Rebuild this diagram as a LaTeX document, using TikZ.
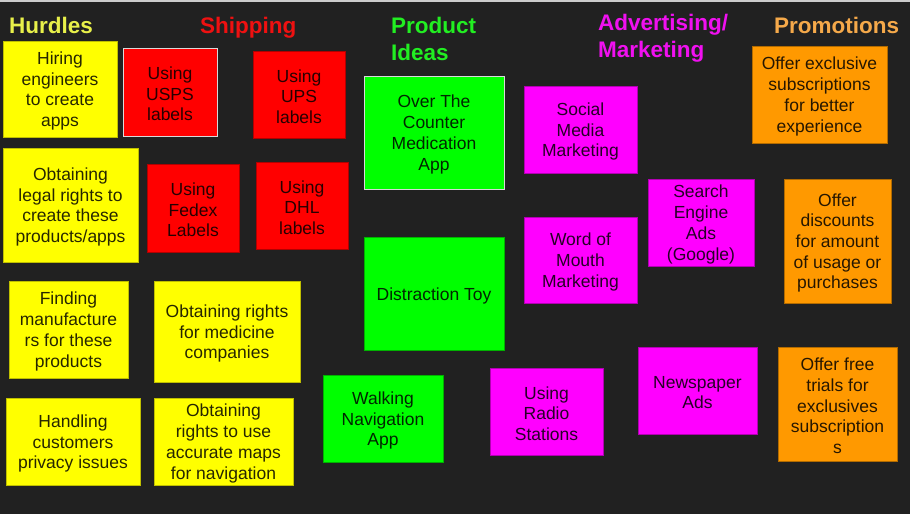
\documentclass[tikz,border=0pt]{standalone}
\usepackage{fontspec}
\setmainfont{Liberation Sans}
\definecolor{bg}{HTML}{212121}
\definecolor{cyel}{HTML}{FFFF00}
\definecolor{cred}{HTML}{FF0000}
\definecolor{cgrn}{HTML}{00FF00}
\definecolor{cmag}{HTML}{FF00FF}
\definecolor{corg}{HTML}{FF9900}
\definecolor{thur}{HTML}{E8F04A}
\definecolor{tshp}{HTML}{EE1111}
\definecolor{tprd}{HTML}{22EE22}
\definecolor{tadv}{HTML}{F010F0}
\definecolor{tpro}{HTML}{F5A94A}
\tikzset{
  card/.style={rectangle, inner sep=0pt, outer sep=0pt, line width=1pt},
  cardtext/.style={inner sep=0pt, align=center, yshift=-2pt,
    font=\fontsize{17.5}{20.7}\selectfont, text=black, text opacity=0.85},
  txt/.style={label={[cardtext]center:{#1}}},
  ycard/.style={card, fill=cyel, draw=cyel!75!black},
  rcard/.style={card, fill=cred, draw=cred!70!black},
  gcard/.style={card, fill=cgrn, draw=cgrn!70!black},
  mcard/.style={card, fill=cmag, draw=cmag!70!black},
  ocard/.style={card, fill=corg, draw=corg!70!black},
  selcard/.style={draw=white!85!black},
  title/.style={anchor=north west, inner sep=0pt, align=left,
    font=\fontsize{22.5}{27.5}\selectfont\bfseries},
  sz/.style 2 args={minimum width=#1pt, minimum height=#2pt}
}
\begin{document}
\begin{tikzpicture}[x=1pt,y=-1pt]
\fill[bg] (0,0) rectangle (910,514);
\useasboundingbox (0,0) rectangle (910,514);
\draw[white!80!black, line width=1.5pt] (0,0.75) -- (910,0.75);

% titles
\node[title, text=thur] (tH) at (9,16.8) {Hurdles};
\node[title, text=tshp] (tS) at (200,16.8) {Shipping};
\node[title, text=tprd] (tP) at (391,16.8) {Product\\Ideas};
\node[title, text=tadv] (tA) at (598,13.8) {Advertising/\\Marketing};
\node[title, text=tpro] (tR) at (774,16.8) {Promotions};

% hurdles
\node[ycard, sz={114}{96}, txt={Hiring\\engineers\\to create\\apps}] (h1) at (60,89) {};
\node[ycard, sz={135}{114}, txt={Obtaining\\legal rights to\\create these\\products/apps}] (h2) at (70.5,205) {};
\node[ycard, sz={119}{97}, txt={Finding\\manufacture\\rs for these\\products}] (h3) at (68.5,329.5) {};
\node[ycard, sz={146}{101}, txt={Obtaining rights\\for medicine\\companies}] (h4) at (227,331.5) {};
\node[ycard, sz={134}{87}, txt={Handling\\customers\\privacy issues}] (h5) at (73,441.5) {};
\node[ycard, sz={139}{87}, txt={Obtaining\\rights to use\\accurate maps\\for navigation}] (h6) at (223.5,441.5) {};

% shipping
\node[rcard, selcard, sz={94}{88}, txt={Using\\USPS\\labels}] (s1) at (170,92) {};
\node[rcard, sz={92}{87}, txt={Using\\UPS\\labels}] (s2) at (299,94.5) {};
\node[rcard, sz={92}{88}, txt={Using\\Fedex\\Labels}] (s3) at (193,208) {};
\node[rcard, sz={92}{87}, txt={Using\\DHL\\labels}] (s4) at (302,205.5) {};

% product ideas
\node[gcard, selcard, sz={140}{113}, txt={Over The\\Counter\\Medication\\App}] (p1) at (434,132.5) {};
\node[gcard, sz={140}{113}, txt={Distraction Toy}] (p2) at (434,293.5) {};
\node[gcard, sz={120}{87}, txt={Walking\\Navigation\\App}] (p3) at (383,418.5) {};

% advertising
\node[mcard, sz={113}{87}, txt={Social\\Media\\Marketing}] (a1) at (580.5,129.5) {};
\node[mcard, sz={113}{86}, txt={Word of\\Mouth\\Marketing}] (a2) at (580.5,260) {};
\node[mcard, sz={106}{87}, txt={Search\\Engine\\Ads\\(Google)}] (a3) at (701,222.5) {};
\node[mcard, sz={113}{87}, txt={Using\\Radio\\Stations}] (a4) at (546.5,411.5) {};
\node[mcard, sz={119}{87}, txt={Newspaper\\Ads}] (a5) at (697.5,390.5) {};

% promotions
\node[ocard, sz={135}{97}, txt={Offer exclusive\\subscriptions\\for better\\experience}] (o1) at (819.5,94.5) {};
\node[ocard, sz={107}{124}, txt={Offer\\discounts\\for amount\\of usage or\\purchases}] (o2) at (837.5,241) {};
\node[ocard, sz={119}{114}, txt={Offer free\\trials for\\exclusives\\subscription\\s}] (o3) at (837.5,404) {};
\end{tikzpicture}
\end{document}
